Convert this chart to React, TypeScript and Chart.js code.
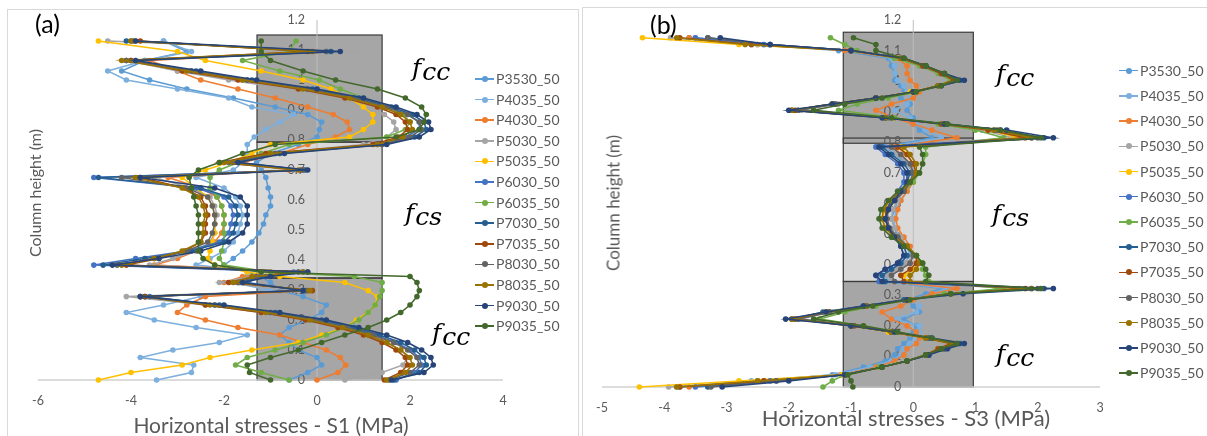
import React, { useEffect, useRef } from "react";
import { Chart, registerables } from "chart.js";

Chart.register(...registerables);

// ---------- series meta ----------
const seriesNames = [
  "P3530_50", "P4035_50", "P4030_50", "P5030_50", "P5035_50", "P6030_50", "P6035_50",
  "P7030_50", "P7035_50", "P8030_50", "P8035_50", "P9030_50", "P9035_50",
];
const seriesColors = [
  "#5B9BD5", "#7CAFDD", "#ED7D31", "#A5A5A5", "#FFC000", "#4472C4", "#70AD47",
  "#255E91", "#9E480E", "#636363", "#997300", "#264478", "#43682B",
];

// ---------- panel (a): S1 ----------
const heightsA = [
  0, 0.025, 0.05, 0.075, 0.1, 0.125, 0.15, 0.175, 0.2, 0.225,
  0.25, 0.278, 0.298, 0.325, 0.345, 0.36, 0.383, 0.405, 0.43, 0.46,
  0.49, 0.52, 0.55, 0.58, 0.61, 0.64, 0.675, 0.7, 0.725, 0.755,
  0.785, 0.81, 0.835, 0.86, 0.885, 0.91, 0.94, 0.97, 1.0, 1.03,
  1.065, 1.095, 1.13,
];
const s1P3530 = [
  -0.6, -0.2, 0.1, 0.0, -0.4, -0.6, -0.8, -0.6, -0.2, 0.1,
  0.2, -0.3, -0.8, -1.0, -1.2, -1.5, -2.0, -1.8, -1.6, -1.4,
  -1.25, -1.15, -1.1, -1.0, -1.0, -1.05, -1.1, -1.2, -1.3, -1.0,
  -0.4, 0.0, 0.05, 0.1, -0.2, -0.9, -1.8, -2.8, -3.6, -4.2,
  -3.7, -2.8, -3.3,
];
const s1P4035 = [
  -3.45, -2.7, -2.65, -3.8, -3.1, -2.1, -1.5, -2.6, -3.5, -4.1,
  -3.3, -2.5, -1.0, -1.8, -1.5, -1.2, -2.6, -2.3, -2.0, -1.8,
  -1.7, -1.65, -1.6, -1.65, -1.75, -2.0, -2.6, -1.8, -1.6, -1.5,
  -1.5, -1.35, -1.1, -0.8, -0.5, -1.4, -1.9, -3.0, -4.1, -4.5,
  -3.7, -2.7, -3.3,
];
const s1P4030 = [
  0.0, 0.45, 0.62, 0.5, 0.2, -0.3, -0.8, -1.7, -2.4, -3.0,
  -2.8, -2.4, -0.2, -2.0, -1.6, -0.4, -3.5, -3.0, -2.6, -2.2,
  -2.05, -2.0, -2.0, -2.05, -2.15, -2.5, -3.2, -0.6, -1.6, -0.8,
  -0.2, 0.4, 0.7, 0.65, 0.35, -0.2, -0.9, -1.7, -2.5, -3.0,
  -3.6, 0.0, -3.9,
];
const s1P5030 = [
  0.6, 1.4, 1.85, 1.95, 1.8, 1.5, 1.05, 0.5, -0.25, -1.2,
  -2.4, -4.1, -0.4, -2.1, -1.4, -0.4, -3.6, -3.1, -2.6, -2.3,
  -2.2, -2.2, -2.15, -2.2, -2.3, -2.7, -3.5, -0.5, -2.0, -1.0,
  1.0, 1.5, 1.7, 1.65, 1.45, 1.05, 0.4, -0.6, -1.9, -3.0,
  -4.1, 0.9, -4.5,
];
const s1P5035 = [
  -4.7, -4.0, -2.9, -2.3, -1.4, -0.4, 0.1, 0.6, 0.85, 1.1,
  1.25, 1.3, 1.1, 0.6, -0.8, -1.5, -2.2, -2.35, -2.3, -2.25,
  -2.2, -2.2, -2.2, -2.25, -2.35, -2.6, -2.9, -2.4, -1.9, -1.4,
  -1.0, 0.7, 1.0, 1.2, 1.2, 1.0, 0.7, 0.3, -0.3, -1.2,
  -2.4, -3.0, -4.7,
];
const s1P6030 = [
  1.7, 2.1, 2.25, 2.2, 2.0, 1.7, 1.25, 0.7, 0.0, -1.0,
  -2.2, -3.6, -0.3, -1.5, -1.2, -0.5, -4.8, -3.9, -2.8, -2.1,
  -1.9, -1.85, -1.8, -1.85, -2.0, -2.6, -4.8, -0.3, -1.7, -0.9,
  1.3, 1.9, 2.2, 2.2, 1.95, 1.5, 0.8, -0.2, -1.5, -2.7,
  -4.1, 0.2, -4.0,
];
const s1P6035 = [
  -0.6, -1.2, -1.75, -1.5, -0.9, -0.3, 0.2, 0.6, 0.9, 1.1,
  1.25, 1.35, 1.4, 1.4, 0.8, -1.0, -2.0, -2.1, -2.05, -2.0,
  -2.0, -2.0, -2.0, -2.05, -2.15, -2.3, -2.3, -2.1, -1.7, -1.2,
  -0.6, 1.5, 1.9, 2.0, 1.85, 1.5, 1.0, 0.5, 0.05, -0.8,
  -1.6, -0.6, -0.45,
];
const s1P7030 = [
  1.65, 2.2, 2.35, 2.3, 2.1, 1.8, 1.35, 0.8, 0.1, -0.9,
  -2.1, -3.7, -0.25, -1.7, -1.1, -0.3, -4.6, -3.7, -2.7, -2.0,
  -1.8, -1.75, -1.7, -1.75, -1.9, -2.5, -4.7, -0.25, -1.8, -0.8,
  1.4, 2.1, 2.35, 2.3, 2.05, 1.6, 0.9, -0.1, -1.4, -2.6,
  -4.0, 0.3, -4.1,
];
const s1P7035 = [
  1.45, 1.8, 1.95, 1.9, 1.7, 1.4, 1.0, 0.45, -0.25, -1.2,
  -2.4, -3.7, -0.1, -1.9, -1.3, -0.2, -4.1, -3.4, -2.85, -2.5,
  -2.4, -2.4, -2.35, -2.4, -2.5, -2.85, -3.8, -0.35, -2.1, -1.1,
  1.2, 1.75, 1.95, 1.9, 1.7, 1.3, 0.6, -0.4, -1.7, -2.9,
  -4.0, -0.2, -3.8,
];
const s1P8030 = [
  1.55, 2.0, 2.2, 2.15, 1.95, 1.65, 1.2, 0.65, -0.05, -1.0,
  -2.2, -3.8, -0.2, -1.7, -1.3, -0.4, -4.3, -3.5, -2.8, -2.35,
  -2.25, -2.2, -2.2, -2.25, -2.35, -2.8, -4.2, -0.3, -1.9, -0.9,
  1.4, 2.0, 2.25, 2.2, 1.95, 1.5, 0.8, -0.2, -1.5, -2.7,
  -4.1, 0.2, -3.95,
];
const s1P8035 = [
  1.5, 1.9, 2.05, 2.0, 1.8, 1.5, 1.1, 0.55, -0.15, -1.1,
  -2.3, -3.8, -0.15, -1.8, -1.4, -0.3, -4.2, -3.5, -2.9, -2.5,
  -2.45, -2.45, -2.4, -2.45, -2.55, -2.9, -3.9, -0.4, -2.0, -1.0,
  1.3, 1.85, 2.05, 2.0, 1.8, 1.4, 0.7, -0.3, -1.6, -2.8,
  -4.2, -0.1, -4.0,
];
const s1P9030 = [
  1.6, 2.3, 2.5, 2.45, 2.25, 1.95, 1.5, 0.9, 0.2, -0.8,
  -2.0, -3.8, -0.3, -1.6, -1.0, -0.2, -4.4, -3.4, -2.5, -1.9,
  -1.6, -1.5, -1.5, -1.5, -1.65, -2.2, -3.8, -0.2, -1.7, -0.7,
  1.5, 2.2, 2.45, 2.4, 2.15, 1.7, 1.0, 0.0, -1.3, -2.5,
  -3.9, 0.5, -3.9,
];
const s1P9035 = [
  -1.0, -1.45, -1.5, -1.0, -0.4, 0.1, 0.6, 1.1, 1.5, 1.8,
  2.0, 2.15, 2.2, 2.15, 2.0, -1.2, -2.2, -2.45, -2.55, -2.55,
  -2.55, -2.55, -2.55, -2.6, -2.65, -2.7, -2.75, -2.55, -2.1, -1.6,
  -0.9, 1.7, 2.2, 2.3, 2.35, 2.25, 1.9, 1.3, 0.4, -0.3,
  -1.0, -1.2, -1.2,
];

// ---------- panel (b): S3 ----------
const heightsB = [
  0, 0.02, 0.04, 0.065, 0.085, 0.105, 0.125, 0.142, 0.16, 0.18,
  0.2, 0.222, 0.245, 0.265, 0.285, 0.305, 0.322, 0.345, 0.365, 0.385,
  0.405, 0.43, 0.46, 0.49, 0.52, 0.55, 0.58, 0.61, 0.64, 0.67,
  0.7, 0.73, 0.76, 0.785, 0.815, 0.84, 0.86, 0.88, 0.905, 0.925,
  0.945, 0.965, 0.985, 1.003, 1.025, 1.05, 1.075, 1.1, 1.12, 1.142,
];
const s3P3530 = [
  -3.75, -2.5, -1.3, -0.8, -0.45, -0.3, -0.25, -0.15, -0.05, 0.0,
  0.05, -0.15, 0.1, 0.0, -0.1, 0.2, 0.45, -0.45, -0.5, -0.35,
  -0.2, -0.1, -0.15, -0.25, -0.3, -0.35, -0.3, -0.25, -0.15, -0.05,
  0.0, -0.1, -0.3, -0.45, 0.3, 0.1, 0.0, 0.0, -0.1, -0.05,
  -0.2, -0.15, -0.2, -0.3, -0.3, -0.35, -0.4, -1.2, -2.6, -3.6,
];
const s3P4035 = [
  -3.8, -2.6, -1.25, -0.7, -0.35, -0.2, -0.15, -0.05, 0.05, 0.1,
  0.1, -0.3, 0.05, 0.1, 0.0, 0.3, 0.55, -0.4, -0.45, -0.3,
  -0.15, -0.05, -0.1, -0.2, -0.3, -0.3, -0.28, -0.2, -0.1, 0.0,
  0.05, -0.05, -0.25, -0.4, 0.45, 0.2, 0.05, -0.05, -0.3, -0.1,
  -0.05, -0.1, -0.15, -0.25, -0.3, -0.3, -0.35, -1.0, -2.4, -3.5,
];
const s3P4030 = [
  -3.6, -2.4, -1.15, -0.6, -0.3, -0.15, -0.1, 0.05, 0.1, 0.05,
  -0.1, -0.35, -0.5, -0.2, 0.0, 0.3, 0.7, -0.35, -0.4, -0.25,
  -0.1, 0.0, -0.05, -0.15, -0.25, -0.28, -0.25, -0.2, -0.1, 0.0,
  0.0, -0.05, -0.2, -0.3, 0.7, 0.3, 0.0, -0.3, -0.6, -0.35,
  0.0, 0.1, 0.05, -0.05, -0.1, -0.1, -0.25, -1.1, -2.5, -3.6,
];
const s3P5030 = [
  -3.93, -2.5, -1.1, -0.55, -0.15, 0.15, 0.35, 0.55, 0.2, -0.35,
  -0.9, -1.8, -1.3, -0.7, -0.1, 0.6, 1.6, -0.35, -0.4, -0.25,
  -0.1, 0.0, -0.1, -0.2, -0.3, -0.35, -0.33, -0.25, -0.15, -0.05,
  0.0, -0.1, -0.25, -0.4, 1.6, 1.1, 0.4, -0.4, -1.8, -1.2,
  -0.55, 0.0, 0.35, 0.6, 0.4, 0.15, -0.15, -0.9, -2.5, -3.9,
];
const s3P5035 = [
  -4.4, -2.8, -1.15, -0.5, -0.1, 0.2, 0.4, 0.6, 0.2, -0.4,
  -1.0, -1.95, -1.4, -0.75, -0.05, 0.6, 1.7, -0.1, -0.15, 0.0,
  0.1, 0.05, -0.1, -0.3, -0.45, -0.5, -0.45, -0.35, -0.2, -0.05,
  0.05, 0.0, -0.1, -0.2, 1.7, 1.2, 0.5, -0.4, -1.95, -1.3,
  -0.6, -0.05, 0.4, 0.65, 0.45, 0.15, -0.2, -1.0, -2.8, -4.35,
];
const s3P6030 = [
  -3.5, -2.3, -1.1, -0.5, -0.1, 0.2, 0.45, 0.7, 0.25, -0.35,
  -1.0, -1.85, -1.35, -0.75, -0.1, 0.6, 1.9, -0.55, -0.6, -0.45,
  -0.25, -0.15, -0.2, -0.3, -0.4, -0.45, -0.42, -0.35, -0.25, -0.15,
  -0.15, -0.25, -0.45, -0.6, 1.9, 1.3, 0.5, -0.4, -1.85, -1.25,
  -0.6, 0.0, 0.4, 0.7, 0.45, 0.15, -0.2, -1.0, -2.4, -3.5,
];
const s3P6035 = [
  -1.45, -1.3, -1.1, -0.55, -0.1, 0.2, 0.4, 0.6, 0.2, -0.3,
  -0.8, -1.5, -1.1, -0.6, -0.1, 0.5, 1.45, 0.25, 0.2, 0.15,
  0.15, 0.05, -0.1, -0.25, -0.4, -0.45, -0.4, -0.3, -0.15, 0.0,
  0.1, 0.15, 0.2, 0.2, 1.45, 1.0, 0.4, -0.3, -1.2, -0.9,
  -0.4, 0.05, 0.4, 0.6, 0.4, 0.1, -0.3, -0.9, -1.1, -1.33,
];
const s3P7030 = [
  -3.3, -2.2, -1.1, -0.5, -0.1, 0.25, 0.5, 0.75, 0.25, -0.35,
  -1.0, -1.95, -1.45, -0.8, -0.15, 0.6, 2.1, -0.45, -0.5, -0.35,
  -0.2, -0.1, -0.15, -0.3, -0.4, -0.45, -0.43, -0.35, -0.2, -0.1,
  -0.05, -0.15, -0.35, -0.5, 2.1, 1.4, 0.55, -0.45, -1.95, -1.3,
  -0.6, 0.0, 0.45, 0.75, 0.5, 0.2, -0.15, -1.0, -2.3, -3.3,
];
const s3P7035 = [
  -3.75, -2.4, -1.1, -0.5, -0.1, 0.2, 0.4, 0.6, 0.2, -0.35,
  -0.95, -1.9, -1.35, -0.75, -0.1, 0.6, 1.8, -0.15, -0.2, -0.05,
  0.05, 0.05, -0.1, -0.25, -0.4, -0.45, -0.42, -0.3, -0.15, -0.05,
  0.05, 0.0, -0.1, -0.25, 1.8, 1.2, 0.45, -0.45, -1.9, -1.3,
  -0.6, 0.0, 0.4, 0.65, 0.45, 0.15, -0.2, -1.0, -2.6, -3.75,
];
const s3P8030 = [
  -3.25, -2.2, -1.1, -0.5, -0.1, 0.25, 0.5, 0.7, 0.25, -0.35,
  -1.0, -1.85, -1.35, -0.75, -0.1, 0.6, 2.0, -0.3, -0.35, -0.2,
  -0.05, 0.0, -0.1, -0.25, -0.38, -0.42, -0.4, -0.3, -0.15, -0.05,
  0.0, -0.05, -0.2, -0.35, 2.0, 1.35, 0.5, -0.45, -1.85, -1.25,
  -0.6, 0.0, 0.4, 0.7, 0.5, 0.2, -0.15, -1.0, -2.3, -3.3,
];
const s3P8035 = [
  -3.8, -2.5, -1.1, -0.5, -0.1, 0.2, 0.45, 0.65, 0.2, -0.35,
  -1.0, -1.95, -1.4, -0.75, -0.1, 0.6, 1.9, -0.05, -0.05, 0.05,
  0.1, 0.05, -0.1, -0.3, -0.45, -0.5, -0.48, -0.38, -0.2, -0.05,
  0.05, 0.05, -0.05, -0.15, 1.9, 1.3, 0.5, -0.45, -1.95, -1.3,
  -0.6, 0.0, 0.4, 0.7, 0.5, 0.2, -0.2, -1.0, -2.7, -3.8,
];
const s3P9030 = [
  -3.07, -2.0, -1.1, -0.5, -0.1, 0.25, 0.55, 0.82, 0.3, -0.3,
  -1.0, -2.05, -1.4, -0.8, -0.1, 0.8, 2.25, -0.5, -0.6, -0.45,
  -0.25, -0.15, -0.2, -0.3, -0.4, -0.45, -0.4, -0.3, -0.2, -0.1,
  -0.1, -0.2, -0.4, -0.55, 2.25, 1.5, 0.5, -0.5, -2.0, -1.3,
  -0.6, 0.0, 0.45, 0.82, 0.5, 0.2, -0.15, -1.0, -2.3, -3.1,
];
const s3P9035 = [
  -0.97, -1.0, -1.05, -0.5, -0.1, 0.2, 0.45, 0.7, 0.3, -0.25,
  -0.8, -1.6, -1.2, -0.65, -0.05, 0.6, 2.05, 0.2, 0.25, 0.2,
  0.15, 0.05, -0.15, -0.35, -0.5, -0.55, -0.52, -0.4, -0.25, -0.05,
  0.1, 0.15, 0.15, 0.1, 2.05, 1.4, 0.55, -0.35, -1.6, -1.1,
  -0.5, 0.05, 0.45, 0.7, 0.5, 0.2, -0.15, -0.6, -0.6, -0.96,
];

// ---------- ticks ----------
const xTicksA = [-6, -4, -2, 0, 2, 4];
const xTicksB = [-5, -4, -3, -2, -1, 0, 1, 2, 3];
const yTicks = [0, 0.1, 0.2, 0.3, 0.4, 0.5, 0.6, 0.7, 0.8, 0.9, 1, 1.1, 1.2];

// ---------- zones (shaded rectangles, in data units) ----------
const zonesA = [
  { x0: -1.29, x1: 1.4, y0: 0.34, y1: 0.793, fill: "#D9D9D9" },
  { x0: -1.29, x1: 1.4, y0: 0.793, y1: 1.15, fill: "#A6A6A6" },
  { x0: -1.29, x1: 1.4, y0: 0, y1: 0.34, fill: "#A6A6A6" },
];
const zonesB = [
  { x0: -1.124, x1: 0.965, y0: 0.345, y1: 0.814, fill: "#D9D9D9" },
  { x0: -1.124, x1: 0.965, y0: 0.797, y1: 1.16, fill: "#A6A6A6" },
  { x0: -1.124, x1: 0.965, y0: 0, y1: 0.345, fill: "#A6A6A6" },
];

const seriesA = [s1P3530, s1P4035, s1P4030, s1P5030, s1P5035, s1P6030, s1P6035, s1P7030, s1P7035, s1P8030, s1P8035, s1P9030, s1P9035];
const seriesB = [s3P3530, s3P4035, s3P4030, s3P5030, s3P5035, s3P6030, s3P6035, s3P7030, s3P7035, s3P8030, s3P8035, s3P9030, s3P9035];

const TXT = "#595959";

const decorPlugin = {
  id: "decor",
  beforeDatasetsDraw(chart: any, _args: any, opts: any) {
    const ctx = chart.ctx;
    const xs = chart.scales.x;
    const ys = chart.scales.y;
    ctx.save();
    for (const b of opts.zones) {
      const px0 = xs.getPixelForValue(b.x0);
      const px1 = xs.getPixelForValue(b.x1);
      const py0 = ys.getPixelForValue(b.y0);
      const py1 = ys.getPixelForValue(b.y1);
      ctx.fillStyle = b.fill;
      ctx.fillRect(px0, py1, px1 - px0, py0 - py1);
    }
    ctx.strokeStyle = "#3A3A3A";
    ctx.lineWidth = 1.2;
    for (const b of opts.zones) {
      const px0 = xs.getPixelForValue(b.x0);
      const px1 = xs.getPixelForValue(b.x1);
      const py0 = ys.getPixelForValue(b.y0);
      const py1 = ys.getPixelForValue(b.y1);
      ctx.strokeRect(px0, py1, px1 - px0, py0 - py1);
    }
    const y0 = ys.getPixelForValue(0);
    const x0 = xs.getPixelForValue(0);
    ctx.strokeStyle = "#D0D0D0";
    ctx.lineWidth = 1.6;
    ctx.beginPath();
    ctx.moveTo(xs.left, y0);
    ctx.lineTo(xs.right, y0);
    ctx.stroke();
    ctx.strokeStyle = "#BDBDBD";
    ctx.lineWidth = 1;
    ctx.beginPath();
    ctx.moveTo(x0, y0);
    ctx.lineTo(x0, ys.getPixelForValue(1.2));
    ctx.stroke();
    ctx.fillStyle = TXT;
    ctx.font = "12.5px Lato, sans-serif";
    ctx.textBaseline = "middle";
    ctx.textAlign = "center";
    for (const t of opts.xTicks) ctx.fillText(String(t), xs.getPixelForValue(t), y0 + 21);
    ctx.textAlign = "right";
    for (const t of opts.yTicks) ctx.fillText(String(t), x0 - 12, ys.getPixelForValue(t));
    ctx.restore();
  },
};

type PanelProps = {
  left: number;
  width: number;
  height: number;
  pad: { left: number; right: number; top: number; bottom: number };
  heights: number[];
  series: number[][];
  xMin: number;
  xMax: number;
  xTicks: number[];
  zones: any[];
};

function Panel(p: PanelProps) {
  const ref = useRef<HTMLCanvasElement>(null);
  useEffect(() => {
    const canvas = ref.current;
    if (!canvas) return;
    const n = seriesNames.length;
    const chart = new Chart(canvas, {
      type: "scatter",
      data: {
        datasets: seriesNames.map((name, i) => ({
          label: name,
          data: p.heights.map((h, j) => ({ x: p.series[i][j], y: h })),
          order: n - i,
          showLine: true,
          borderColor: seriesColors[i],
          backgroundColor: seriesColors[i],
          pointBackgroundColor: seriesColors[i],
          pointBorderWidth: 0,
          pointRadius: 2.8,
          pointHoverRadius: 2.8,
          borderWidth: 1.5,
          tension: 0,
          clip: false,
        })),
      },
      options: {
        animation: false,
        responsive: false,
        maintainAspectRatio: false,
        events: [],
        layout: { padding: p.pad },
        scales: {
          x: { type: "linear", min: p.xMin, max: p.xMax, display: false },
          y: { type: "linear", min: 0, max: 1.2, display: false },
        },
        plugins: {
          legend: { display: false },
          tooltip: { enabled: false },
          decor: { zones: p.zones, xTicks: p.xTicks, yTicks: yTicks },
        } as any,
      },
      plugins: [decorPlugin],
    } as any);
    const fonts: any = (document as any).fonts;
    if (fonts && fonts.ready) fonts.ready.then(() => { try { chart.draw(); } catch (e) {} });
    return () => chart.destroy();
  }, []);
  return (
    <canvas
      ref={ref}
      width={p.width}
      height={p.height}
      style={{ position: "absolute", left: p.left, top: 0, width: p.width, height: p.height }}
    />
  );
}

function Legend({ left, top, step }: { left: number; top: number; step: number }) {
  return (
    <>
      {seriesNames.map((n, i) => {
        const cy = top + i * step;
        return (
          <div key={n} style={{ position: "absolute", left, top: cy - 10, height: 20, width: 100 }}>
            <div style={{ position: "absolute", left: 0, top: 9.25, width: 19, height: 1.5, background: seriesColors[i] }} />
            <div style={{ position: "absolute", left: 6.5, top: 7, width: 6, height: 6, borderRadius: 3, background: seriesColors[i] }} />
            <div style={{ position: "absolute", left: 21, top: 0, lineHeight: "20px", fontSize: 14, color: TXT, fontFamily: "Lato, sans-serif", whiteSpace: "nowrap" }}>{n}</div>
          </div>
        );
      })}
    </>
  );
}

function FLabel({ left, top, sub }: { left: number; top: number; sub: string }) {
  return (
    <div style={{ position: "absolute", left, top, fontFamily: '"DejaVu Serif", "Liberation Serif", serif', fontStyle: "italic", fontSize: 25, lineHeight: "25px", color: "#000", whiteSpace: "nowrap" }}>
      f<span style={{ position: "relative", top: 4, marginLeft: 1 }}>{sub}</span>
    </div>
  );
}

function AxisTitle({ cx, cy, text, size, rotate }: { cx: number; cy: number; text: string; size: number; rotate?: boolean }) {
  return (
    <div style={{ position: "absolute", left: cx, top: cy, transform: `translate(-50%, -50%)${rotate ? " rotate(-90deg)" : ""}`, fontSize: size, color: TXT, fontFamily: "Lato, sans-serif", whiteSpace: "nowrap", lineHeight: 1 }}>
      {text}
    </div>
  );
}

export default function App() {
  return (
    <div style={{ position: "absolute", left: 0, top: 0, width: 1207, height: 436, background: "#fff", overflow: "hidden" }}>
      <div style={{ position: "absolute", left: 7, top: 9, width: 570, height: 440, border: "1px solid #D9D9D9" }} />
      <div style={{ position: "absolute", left: 582, top: 7, width: 640, height: 440, border: "1px solid #D9D9D9" }} />
      <Panel
        left={0}
        width={590}
        height={436}
        pad={{ left: 38, right: 87, top: 20, bottom: 56 }}
        heights={heightsA}
        series={seriesA}
        xMin={-6}
        xMax={4}
        xTicks={xTicksA}
        zones={zonesA}
      />
      <Panel
        left={590}
        width={617}
        height={436}
        pad={{ left: 12, right: 107, top: 20, bottom: 49 }}
        heights={heightsB}
        series={seriesB}
        xMin={-5}
        xMax={3}
        xTicks={xTicksB}
        zones={zonesB}
      />
      <div style={{ position: "absolute", left: 35, top: 8, fontSize: 25, fontFamily: "Lato, sans-serif", color: "#000", lineHeight: "30px" }}>(a)</div>
      <div style={{ position: "absolute", left: 650, top: 9, fontSize: 25, fontFamily: "Lato, sans-serif", color: "#000", lineHeight: "30px" }}>(b)</div>
      <AxisTitle cx={271} cy={424} text="Horizontal stresses - S1 (MPa)" size={21} />
      <AxisTitle cx={906} cy={418} text="Horizontal stresses - S3 (MPa)" size={22} />
      <AxisTitle cx={35} cy={193} text="Column height (m)" size={16} rotate />
      <AxisTitle cx={613} cy={203} text="Column height (m)" size={17} rotate />
      <FLabel left={412} top={55} sub="cc" />
      <FLabel left={405} top={200} sub="cs" />
      <FLabel left={432} top={320} sub="cc" />
      <FLabel left={996} top={61} sub="cc" />
      <FLabel left={992} top={201} sub="cs" />
      <FLabel left={996} top={341} sub="cc" />
      <Legend left={475} top={79} step={20.6} />
      <Legend left={1119} top={70.7} step={25.2} />
    </div>
  );
}
